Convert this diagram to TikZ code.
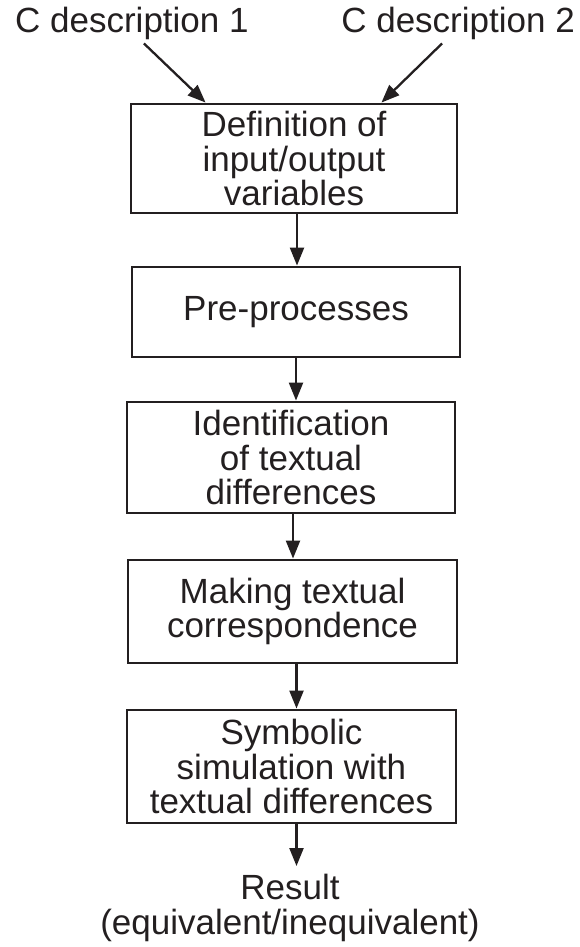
\documentclass[tikz,border=0pt]{standalone}
\usepackage{fontspec}
\setmainfont{Liberation Sans}
\usetikzlibrary{arrows.meta}
\definecolor{ink}{HTML}{231F20}
\begin{document}
\begin{tikzpicture}[x=1pt,y=-1pt,
  txt/.style={align=center, inner sep=0pt, text=ink, font=\fontsize{35}{34.5}\selectfont},
  stepbox/.style={txt, draw=ink, line width=2.9pt},
  flow/.style={draw=ink, line width=2.3pt, -{Triangle[length=18pt,width=14pt]}}]
\useasboundingbox (0,0) rectangle (579,947);

% the two inputs
\node[txt, anchor=base west] (c1) at (15,33) {C description 1};
\node[txt, anchor=base east] (c2) at (575,33) {C description 2};

% processing steps
\node[stepbox, minimum width=326pt, minimum height=109pt] (b1) at (294,158.5)
  {Definition of\\input/output\\variables};
\node[stepbox, minimum width=328pt, minimum height=90pt] (b2) at (296,312)
  {Pre-processes};
\node[stepbox, minimum width=328pt, minimum height=111pt] (b3) at (291,457.5)
  {Identification\\of textual\\differences};
\node[stepbox, minimum width=329pt, minimum height=103pt] (b4) at (292.5,611.5)
  {Making textual\\correspondence};
\node[stepbox, minimum width=329pt, minimum height=113pt] (b5) at (291.5,766.5)
  {Symbolic\\simulation with\\textual differences};

% outcome
\node[txt, anchor=north] (res) at (290,874) {Result\\(equivalent/inequivalent)};

% connectors
\draw[flow] ([xshift=12pt,yshift=-3pt]c1.south) -- ([xshift=76pt]b1.north west);
\draw[flow] ([xshift=-16pt,yshift=-3pt]c2.south) -- ([xshift=-77pt]b1.north east);
\draw[flow] ([xshift=3pt]b1.south) -- ([xshift=3pt]b1.south |- b2.north);
\draw[flow] (b2.south) -- (b2.south |- b3.north);
\draw[flow] ([xshift=2pt]b3.south) -- ([xshift=2pt]b3.south |- b4.north);
\draw[flow] ([xshift=4pt]b4.south) -- ([xshift=4pt]b4.south |- b5.north);
\draw[flow, shorten >=8pt] ([xshift=5pt]b5.south) -- ([xshift=5pt]b5.south |- res.north);
\end{tikzpicture}
\end{document}
